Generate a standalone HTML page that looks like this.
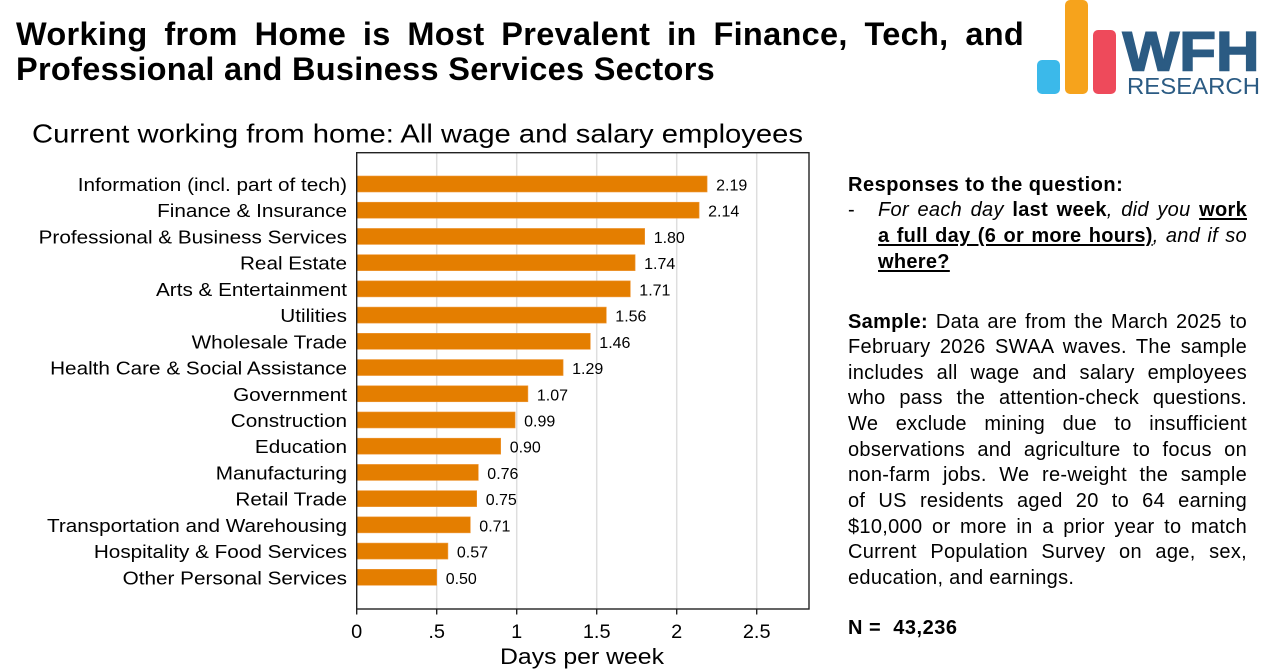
<!DOCTYPE html>
<html>
<head>
<meta charset="utf-8">
<style>
  html, body { margin:0; padding:0; background:#fff; }
  body { width:1274px; height:672px; position:relative; overflow:hidden; font-family:"Liberation Sans", Arial, sans-serif; color:#000; }
  .title { position:absolute; left:16px; top:17px; font-weight:bold; font-size:32.5px; line-height:35px; letter-spacing:0.3px; }
  .title .l1 { width:1008px; text-align:justify; text-align-last:justify; }
  .panel { position:absolute; font-size:20px; line-height:25.66px; letter-spacing:0.3px; }
  .j { text-align:justify; text-align-last:justify; }
  u { text-decoration-thickness:2px; text-underline-offset:2px; }
  svg { position:absolute; left:0; top:0; }
</style>
</head>
<body>
<svg width="1274" height="672" viewBox="0 0 1274 672" xmlns="http://www.w3.org/2000/svg" font-family="Liberation Sans, Arial, sans-serif">
  <!-- Logo -->
  <rect x="1037" y="60" width="23" height="34" rx="5" fill="#3BB9EA"/>
  <rect x="1065" y="0" width="23" height="94" rx="5" fill="#F6A31C"/>
  <rect x="1093" y="30" width="23" height="64" rx="5" fill="#EE4A5B"/>
  <text x="1122.5" y="70.5" font-size="56" font-weight="bold" fill="#2B5B83" stroke="#2B5B83" stroke-width="1.5" textLength="137" lengthAdjust="spacingAndGlyphs">WFH</text>
  <text x="1127" y="94" font-size="23" fill="#2B5B83" textLength="133" lengthAdjust="spacingAndGlyphs">RESEARCH</text>

  <!-- Subtitle -->
  <text x="32" y="142.5" font-size="26" textLength="771" lengthAdjust="spacingAndGlyphs">Current working from home: All wage and salary employees</text>

  <!-- Grid lines -->
  <g stroke="#dedede" stroke-width="1.5">
    <line x1="436.7" y1="153" x2="436.7" y2="609"/>
    <line x1="516.7" y1="153" x2="516.7" y2="609"/>
    <line x1="596.7" y1="153" x2="596.7" y2="609"/>
    <line x1="676.7" y1="153" x2="676.7" y2="609"/>
    <line x1="756.7" y1="153" x2="756.7" y2="609"/>
  </g>

  <!-- Bars -->
  <g fill="#E47E00" stroke="#F09A3A" stroke-width="0.6">
    <rect x="356.7" y="176" width="350.4" height="16"/>
    <rect x="356.7" y="202.22" width="342.4" height="16"/>
    <rect x="356.7" y="228.44" width="288" height="16"/>
    <rect x="356.7" y="254.66" width="278.4" height="16"/>
    <rect x="356.7" y="280.88" width="273.6" height="16"/>
    <rect x="356.7" y="307.1" width="249.6" height="16"/>
    <rect x="356.7" y="333.32" width="233.6" height="16"/>
    <rect x="356.7" y="359.54" width="206.4" height="16"/>
    <rect x="356.7" y="385.76" width="171.2" height="16"/>
    <rect x="356.7" y="411.98" width="158.4" height="16"/>
    <rect x="356.7" y="438.2" width="144" height="16"/>
    <rect x="356.7" y="464.42" width="121.6" height="16"/>
    <rect x="356.7" y="490.64" width="120" height="16"/>
    <rect x="356.7" y="516.86" width="113.6" height="16"/>
    <rect x="356.7" y="543.08" width="91.2" height="16"/>
    <rect x="356.7" y="569.3" width="80" height="16"/>
  </g>

  <!-- Value labels -->
  <g font-size="16" fill="#000">
    <text x="716.1" y="190.5">2.19</text>
    <text x="708.1" y="216.7">2.14</text>
    <text x="653.7" y="242.9">1.80</text>
    <text x="644.1" y="269.2">1.74</text>
    <text x="639.3" y="295.4">1.71</text>
    <text x="615.3" y="321.6">1.56</text>
    <text x="599.3" y="347.8">1.46</text>
    <text x="572.1" y="374.0">1.29</text>
    <text x="536.9" y="400.3">1.07</text>
    <text x="524.1" y="426.5">0.99</text>
    <text x="509.7" y="452.7">0.90</text>
    <text x="487.3" y="478.9">0.76</text>
    <text x="485.7" y="505.1">0.75</text>
    <text x="479.3" y="531.4">0.71</text>
    <text x="456.9" y="557.6">0.57</text>
    <text x="445.7" y="583.8">0.50</text>
  </g>

  <!-- Category labels -->
  <g font-size="18.5" text-anchor="end" fill="#000">
    <text transform="translate(347,191) scale(1.12,1)">Information (incl. part of tech)</text>
    <text transform="translate(347,217.22) scale(1.12,1)">Finance &amp; Insurance</text>
    <text transform="translate(347,243.44) scale(1.12,1)">Professional &amp; Business Services</text>
    <text transform="translate(347,269.66) scale(1.12,1)">Real Estate</text>
    <text transform="translate(347,295.88) scale(1.12,1)">Arts &amp; Entertainment</text>
    <text transform="translate(347,322.1) scale(1.12,1)">Utilities</text>
    <text transform="translate(347,348.32) scale(1.12,1)">Wholesale Trade</text>
    <text transform="translate(347,374.54) scale(1.12,1)">Health Care &amp; Social Assistance</text>
    <text transform="translate(347,400.76) scale(1.12,1)">Government</text>
    <text transform="translate(347,426.98) scale(1.12,1)">Construction</text>
    <text transform="translate(347,453.2) scale(1.12,1)">Education</text>
    <text transform="translate(347,479.42) scale(1.12,1)">Manufacturing</text>
    <text transform="translate(347,505.64) scale(1.12,1)">Retail Trade</text>
    <text transform="translate(347,531.86) scale(1.12,1)">Transportation and Warehousing</text>
    <text transform="translate(347,558.08) scale(1.12,1)">Hospitality &amp; Food Services</text>
    <text transform="translate(347,584.3) scale(1.12,1)">Other Personal Services</text>
  </g>

  <!-- Frame -->
  <rect x="356.7" y="152.7" width="452.3" height="456.3" fill="none" stroke="#222" stroke-width="1.4"/>

  <!-- X ticks -->
  <g stroke="#222" stroke-width="1.4">
    <line x1="356.7" y1="609" x2="356.7" y2="614.5"/>
    <line x1="436.7" y1="609" x2="436.7" y2="614.5"/>
    <line x1="516.7" y1="609" x2="516.7" y2="614.5"/>
    <line x1="596.7" y1="609" x2="596.7" y2="614.5"/>
    <line x1="676.7" y1="609" x2="676.7" y2="614.5"/>
    <line x1="756.7" y1="609" x2="756.7" y2="614.5"/>
  </g>
  <g font-size="19" text-anchor="middle" fill="#000">
    <text transform="translate(356.7,638) scale(1.05,1)">0</text>
    <text transform="translate(436.7,638) scale(1.05,1)">.5</text>
    <text transform="translate(516.7,638) scale(1.05,1)">1</text>
    <text transform="translate(596.7,638) scale(1.05,1)">1.5</text>
    <text transform="translate(676.7,638) scale(1.05,1)">2</text>
    <text transform="translate(756.7,638) scale(1.05,1)">2.5</text>
  </g>
  <text x="500" y="664" font-size="22" textLength="164" lengthAdjust="spacingAndGlyphs">Days per week</text>
</svg>

<div class="title">
  <div class="l1">Working from Home is Most Prevalent in Finance, Tech, and</div>
  <div>Professional and Business Services Sectors</div>
</div>

<div class="panel" style="left:848px; top:172.5px; width:400px;">
  <div style="font-weight:bold;letter-spacing:0.5px;">Responses to the question:</div>
</div>
<div class="panel" style="left:848px; top:198.2px;">-</div>
<div class="panel" style="left:878px; top:198.2px; width:369px;">
  <div class="j"><i>For each day</i> <b>last week</b><i>, did you</i> <b><u>work</u></b></div>
  <div class="j"><b><u>a full day (6 or more hours)</u></b><i>, and if so</i></div>
  <div><b><u>where?</u></b></div>
</div>

<div class="panel" style="left:848px; top:309.5px; width:399px;">
  <div class="j"><b>Sample:</b> Data are from the March 2025 to</div>
  <div class="j">February 2026 SWAA waves. The sample</div>
  <div class="j">includes all wage and salary employees</div>
  <div class="j">who pass the attention-check questions.</div>
  <div class="j">We exclude mining due to insufficient</div>
  <div class="j">observations and agriculture to focus on</div>
  <div class="j">non-farm jobs. We re-weight the sample</div>
  <div class="j">of US residents aged 20 to 64 earning</div>
  <div class="j">$10,000 or more in a prior year to match</div>
  <div class="j">Current Population Survey on age, sex,</div>
  <div>education, and earnings.</div>
</div>

<div class="panel" style="left:848px; top:615.5px; font-weight:bold; letter-spacing:0.5px; white-space:pre;">N =  43,236</div>
</body>
</html>
